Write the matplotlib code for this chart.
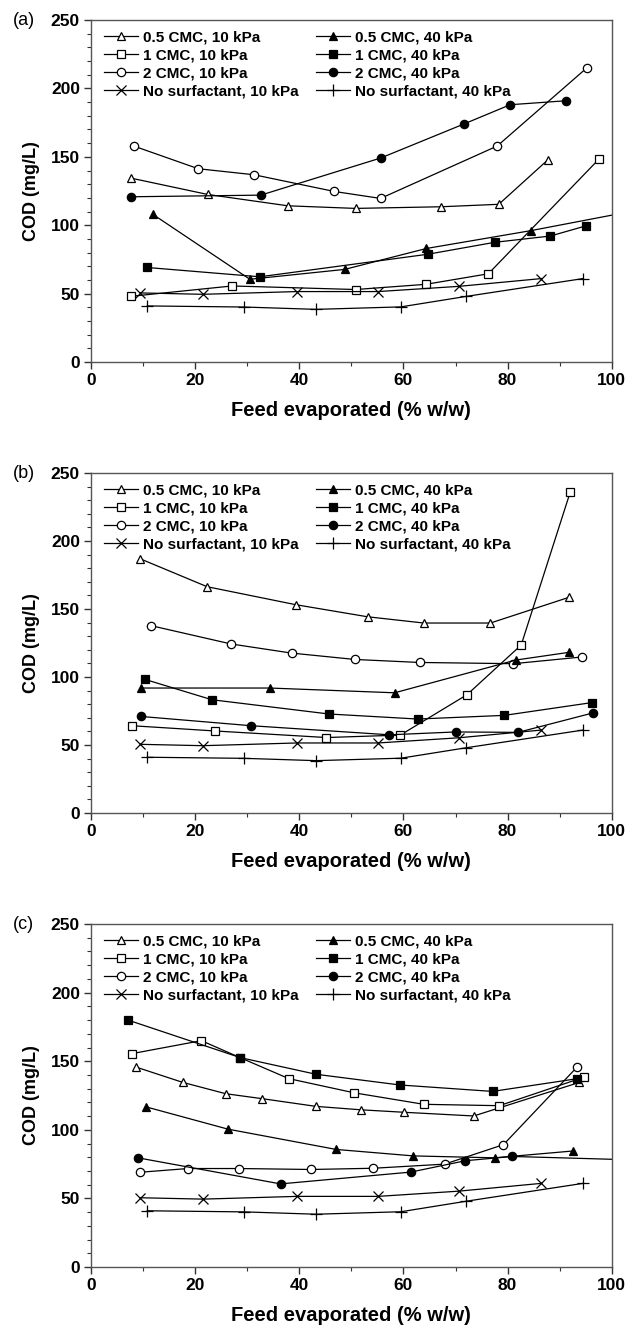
import matplotlib
matplotlib.use("Agg")
import matplotlib.pyplot as plt
from matplotlib.ticker import MultipleLocator

plt.rcParams['font.family'] = ['Liberation Sans', 'DejaVu Sans']

# no surfactant runs (same in all three panels)
ns10_x = [9.5, 21.5, 39.5, 55.1, 70.6, 86.5]
ns10_y = [50.5, 49.5, 51.5, 51.5, 55.3, 61.0]
ns40_x = [10.8, 29.4, 43.2, 59.5, 72.1, 94.5]
ns40_y = [41.0, 40.2, 38.5, 40.3, 48.0, 61.0]

# panel (a)
a05_10_x = [7.6, 22.4, 37.8, 50.8, 67.2, 78.3, 87.7]
a05_10_y = [134.5, 122.5, 114.2, 112.3, 113.5, 115.3, 147.7]
a1_10_x = [7.6, 27.1, 50.8, 64.3, 76.3, 97.5]
a1_10_y = [48.0, 55.6, 53.0, 56.8, 64.5, 148.2]
a2_10_x = [8.2, 20.6, 31.3, 46.7, 55.6, 78.0, 95.2]
a2_10_y = [157.9, 141.3, 136.9, 124.7, 119.6, 157.9, 215.0]
a05_40_x = [11.9, 30.5, 48.7, 64.4, 84.4, 105.0]
a05_40_y = [107.9, 60.5, 67.7, 83.0, 96.0, 111.0]
a1_40_x = [10.8, 32.4, 64.7, 77.5, 88.2, 95.1]
a1_40_y = [69.1, 62.3, 78.8, 87.5, 92.1, 99.6]
a2_40_x = [7.6, 32.6, 55.6, 71.6, 80.5, 91.2]
a2_40_y = [120.8, 122.0, 149.1, 174.0, 188.1, 191.0]

# panel (b)
b05_10_x = [9.4, 22.3, 39.3, 53.1, 63.9, 76.7, 91.7]
b05_10_y = [187.0, 166.4, 153.2, 144.3, 139.7, 139.7, 158.5]
b1_10_x = [7.8, 23.9, 45.2, 59.4, 72.2, 82.6, 92.0]
b1_10_y = [64.2, 60.3, 55.5, 57.3, 87.0, 123.5, 235.7]
b2_10_x = [11.6, 26.9, 38.5, 50.7, 63.1, 81.1, 94.2]
b2_10_y = [137.7, 124.3, 117.6, 112.9, 110.7, 109.8, 114.7]
b05_40_x = [9.6, 34.3, 58.3, 81.6, 91.7]
b05_40_y = [91.9, 91.9, 88.4, 112.5, 118.1]
b1_40_x = [10.4, 23.2, 45.7, 62.7, 79.4, 96.2]
b1_40_y = [98.2, 83.3, 72.8, 69.1, 71.8, 81.2]
b2_40_x = [9.6, 30.7, 57.3, 70.0, 82.0, 96.3]
b2_40_y = [71.0, 64.2, 57.5, 59.6, 59.3, 73.5]

# panel (c)
c05_10_x = [8.6, 17.6, 25.9, 32.9, 43.2, 51.8, 60.1, 73.5, 93.8]
c05_10_y = [145.8, 134.6, 126.3, 122.7, 117.1, 114.6, 112.8, 110.1, 134.6]
c1_10_x = [7.8, 21.2, 28.7, 38.0, 50.5, 63.9, 78.4, 94.6]
c1_10_y = [155.5, 165.0, 152.5, 137.3, 127.0, 118.6, 117.6, 138.3]
c2_10_x = [9.5, 18.6, 28.5, 42.3, 54.2, 67.9, 79.2, 93.4]
c2_10_y = [69.1, 71.8, 71.8, 71.1, 72.0, 75.0, 89.2, 146.0]
c05_40_x = [10.5, 26.3, 47.1, 61.9, 77.5, 92.6]
c05_40_y = [116.8, 100.5, 85.7, 81.0, 79.6, 84.6]
c1_40_x = [7.1, 28.7, 43.2, 59.3, 77.1, 93.4]
c1_40_y = [180.0, 152.6, 140.5, 132.7, 128.0, 137.3]
c2_40_x = [9.0, 36.4, 61.4, 71.9, 80.9, 105.0]
c2_40_y = [79.6, 60.6, 69.2, 77.5, 80.6, 78.0]

labels_10 = ['0.5 CMC, 10 kPa', '1 CMC, 10 kPa', '2 CMC, 10 kPa', 'No surfactant, 10 kPa']
labels_40 = ['0.5 CMC, 40 kPa', '1 CMC, 40 kPa', '2 CMC, 40 kPa', 'No surfactant, 40 kPa']

panels = [
    ('(a)', [(a05_10_x, a05_10_y), (a1_10_x, a1_10_y), (a2_10_x, a2_10_y), (ns10_x, ns10_y)],
            [(a05_40_x, a05_40_y), (a1_40_x, a1_40_y), (a2_40_x, a2_40_y), (ns40_x, ns40_y)]),
    ('(b)', [(b05_10_x, b05_10_y), (b1_10_x, b1_10_y), (b2_10_x, b2_10_y), (ns10_x, ns10_y)],
            [(b05_40_x, b05_40_y), (b1_40_x, b1_40_y), (b2_40_x, b2_40_y), (ns40_x, ns40_y)]),
    ('(c)', [(c05_10_x, c05_10_y), (c1_10_x, c1_10_y), (c2_10_x, c2_10_y), (ns10_x, ns10_y)],
            [(c05_40_x, c05_40_y), (c1_40_x, c1_40_y), (c2_40_x, c2_40_y), (ns40_x, ns40_y)]),
]

markers = ['^', 's', 'o', 'x']
markers_40 = ['^', 's', 'o', '+']

fig = plt.figure(figsize=(6.32, 13.28), dpi=100)

# axes boxes in figure fractions: left, bottom, width, height
boxes = [
    [0.144, 0.7274, 0.824, 0.2575],
    [0.144, 0.3878, 0.824, 0.2560],
    [0.144, 0.0459, 0.824, 0.2583],
]

for (tag, s10, s40), box in zip(panels, boxes):
    ax = fig.add_axes(box)
    handles = []
    for (x, y), m, lab in zip(s10, markers, labels_10):
        h, = ax.plot(x, y, color='black', lw=0.9, marker=m, ms=6 if m != 'x' else 7,
                     mfc='white', mec='black', mew=0.9, label=lab)
        handles.append(h)
    for (x, y), m, lab in zip(s40, markers_40, labels_40):
        h, = ax.plot(x, y, color='black', lw=0.9, marker=m, ms=6 if m != '+' else 8,
                     mfc='black', mec='black', mew=0.9, label=lab)
        handles.append(h)

    ax.set_xlim(0, 100)
    ax.set_ylim(0, 250)
    ax.xaxis.set_major_locator(MultipleLocator(20))
    ax.xaxis.set_minor_locator(MultipleLocator(10))
    ax.yaxis.set_major_locator(MultipleLocator(50))
    ax.yaxis.set_minor_locator(MultipleLocator(10))
    ax.tick_params(which='both', direction='out', top=False, right=False, color='#333333')
    ax.tick_params(which='major', length=5, width=1, labelsize=12.5, pad=3)
    ax.tick_params(which='minor', length=3, width=0.8)
    for lbl in ax.get_xticklabels() + ax.get_yticklabels():
        lbl.set_fontweight('bold')
    for sp in ax.spines.values():
        sp.set_color('#555555')
        sp.set_linewidth(1.0)

    ax.set_xlabel('Feed evaporated (% w/w)', fontsize=14.5, fontweight='bold', labelpad=9)
    ax.set_ylabel('COD (mg/L)', fontsize=13, fontweight='bold', labelpad=8)

    ax.legend(handles=handles, ncol=2, loc='upper left', frameon=False,
              bbox_to_anchor=(0.005, 1.0), prop={'size': 11, 'weight': 'bold'},
              handlelength=2.2, handletextpad=0.3, columnspacing=1.2,
              labelspacing=0.25, borderaxespad=0.3)

    fig.text(0.02, box[1] + box[3], tag, fontsize=13, ha='left', va='center')

fig.savefig('out.png', dpi=100)
